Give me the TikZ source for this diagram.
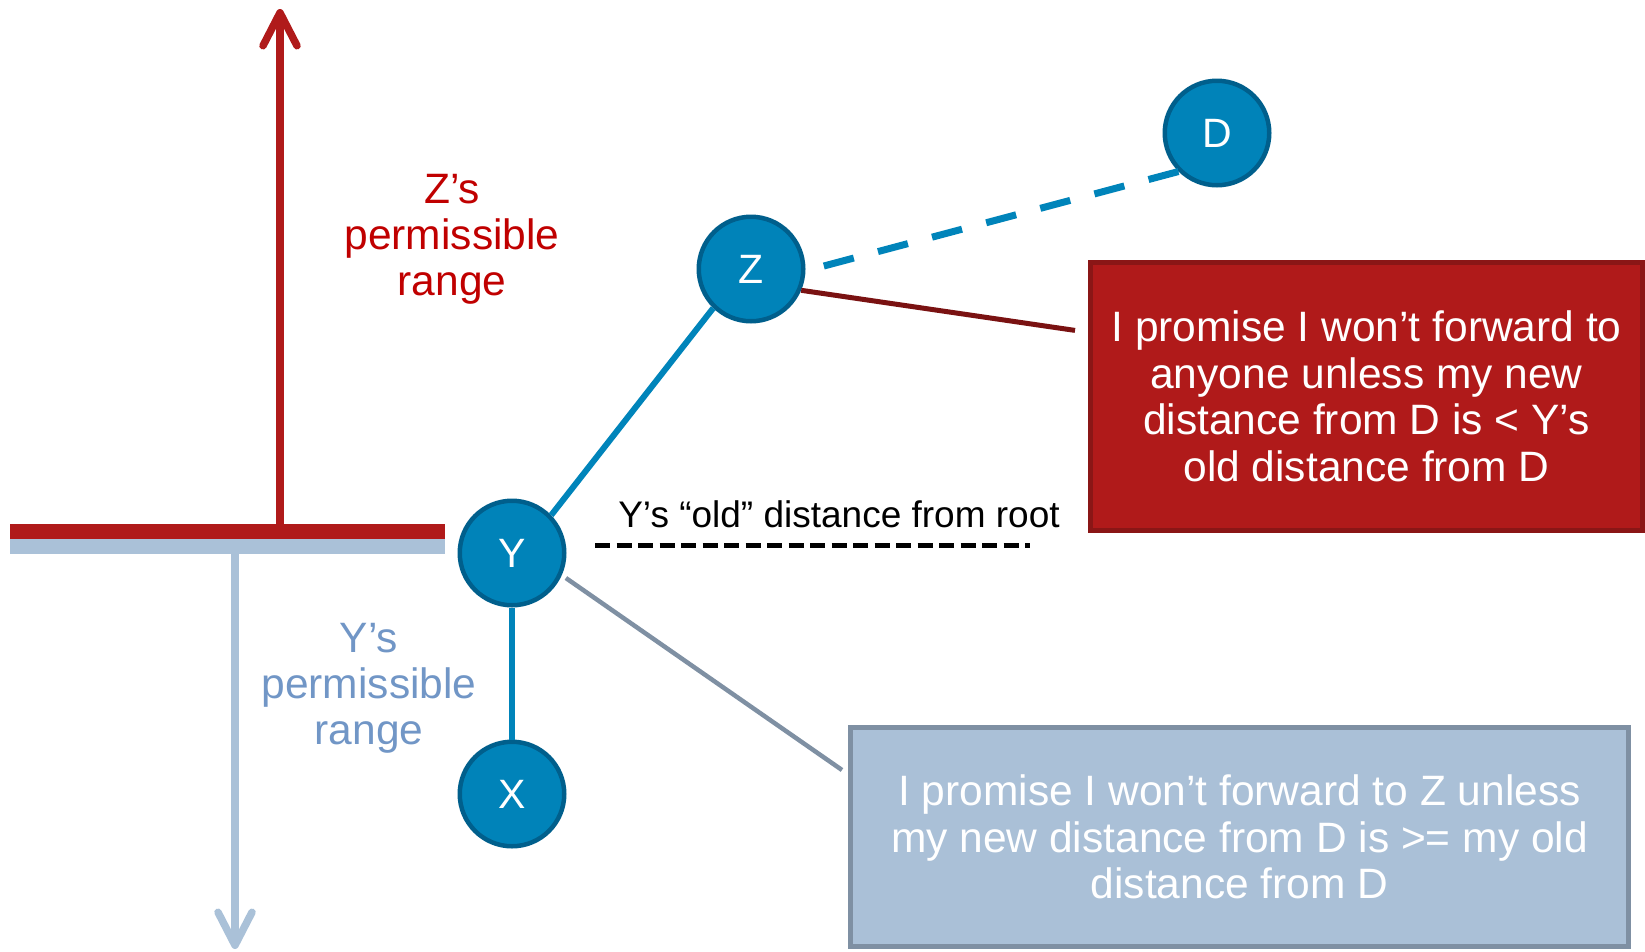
\documentclass[tikz,border=0pt]{standalone}
\usepackage{fontspec}
\setmainfont{Liberation Sans}
\usetikzlibrary{arrows.meta}

\definecolor{nodeblue}{RGB}{0,131,185}
\definecolor{nodeedge}{RGB}{0,95,140}
\definecolor{linkblue}{RGB}{0,132,186}
\definecolor{boxred}{RGB}{176,26,26}
\definecolor{boxrededge}{RGB}{138,22,22}
\definecolor{leadred}{RGB}{122,18,18}
\definecolor{rangeblue}{RGB}{170,193,216}
\definecolor{slate}{RGB}{127,144,163}
\definecolor{boxblue}{RGB}{170,192,215}
\definecolor{textred}{RGB}{192,0,0}
\definecolor{textblue}{RGB}{113,150,198}

\tikzset{
  router/.style={circle, fill=nodeblue, draw=nodeedge, line width=4.5pt,
    minimum size=104.5pt, inner sep=0pt, text=white,
    font=\fontsize{41}{41}\selectfont},
  link/.style={draw=linkblue, line width=6pt},
  pending/.style={draw=linkblue, line width=7pt, dash pattern=on 31pt off 25pt},
  promisebox/.style={rectangle, line width=5pt, inner sep=0pt, text=white,
    align=center, font=\fontsize{42.5}{46.5}\selectfont},
  rangelabel/.style={align=center, font=\fontsize{42.5}{46}\selectfont},
  barb/.style={-{Straight Barb[length=33pt,width=34pt,round]}}
}

\begin{document}
\begin{tikzpicture}[x=1pt,y=-1pt]
\useasboundingbox (0,0) rectangle (1645,951);

% range bars
\fill[boxred] (10,524) rectangle (445,539);
\fill[rangeblue] (10,539) rectangle (445,554);

% permissible-range arrows
\coordinate (zbase) at (280,524);
\coordinate (ztop) at (280,9);
\coordinate (ybase) at (235,554);
\coordinate (ybot) at (235,949);
\draw[barb, boxred, line width=7.5pt] (zbase) -- (ztop);
\draw[barb, rangeblue, line width=7.5pt] (ybase) -- (ybot);

\node[rangelabel, text=textred] (zlabel) at (452,239)
  {Z’s\\permissible\\range};
\node[rangelabel, text=textblue] (ylabel) at (369,688)
  {Y’s\\permissible\\range};

% routers
\node[router] (Y) at (512,553) {Y};
\node[router] (X) at (512,794) {X};
\node[router] (Z) at (751,269) {Z};
\node[router] (D) at (1217,133) {D};

% promise boxes
\node[promisebox, fill=boxred, draw=boxrededge,
      minimum width=552pt, minimum height=268pt] (rbox) at (1366.5,396.5)
  {I promise I won’t forward to\\anyone unless my new\\distance from D is < Y’s\\old distance from D};
\node[promisebox, fill=boxblue, draw=slate,
      minimum width=778pt, minimum height=219pt] (bbox) at (1239.5,837)
  {I promise I won’t forward to Z unless\\my new distance from D is >= my old\\distance from D};

% old distance marker
\node[font=\fontsize{37}{37}\selectfont] (oldlabel) at (839,514)
  {Y’s “old” distance from root};
\coordinate (oldL) at (595,545.5);
\coordinate (oldR) at (1030,545.5);
\draw[line width=4.5pt, dash pattern=on 15pt off 6.5pt] (oldL) -- (oldR);

% tree links
\draw[link] (Y.44) -- (Z.226);
\draw[link] (Y.south) -- (X.north);
\draw[pending, shorten <=19pt] (Z.-2) -- (D.225);

% callout leaders
\coordinate (zlead) at (1075,330.4);
\coordinate (ylead) at (842,770);
\draw[leadred, line width=5pt] (Z.-23) -- (zlead);
\draw[slate, line width=4.5pt, shorten <=5pt] (Y.-24) -- (ylead);
\end{tikzpicture}
\end{document}
